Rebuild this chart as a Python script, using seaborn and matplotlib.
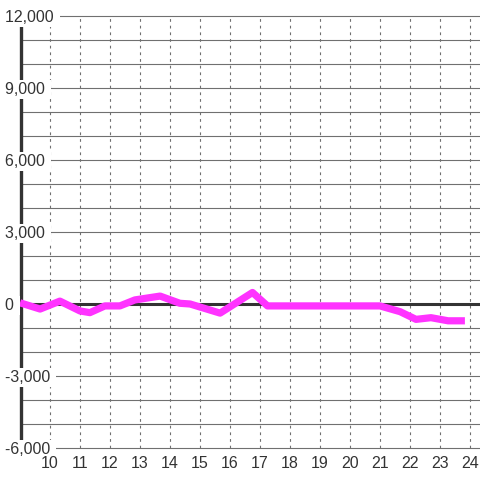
import numpy as np
import pandas as pd
import seaborn as sns
import matplotlib.pyplot as plt
import matplotlib.transforms as mtrans

# hour of day vs value
hours = [9.0, 9.67, 10.33, 11.0, 11.33, 11.83, 12.33, 12.83, 13.67, 14.33, 14.67,
         15.67, 16.75, 17.25, 21.0, 21.67, 22.2, 22.7, 23.27, 23.83]
values = [50, -210, 120, -290, -360, -80, -80, 170, 330, 30, 0,
          -380, 480, -80, -80, -320, -640, -570, -700, -700]
x_ticks = list(range(10, 25))
y_ticks = [-6000, -3000, 0, 3000, 6000, 9000, 12000]
y_grid = list(range(-6000, 12001, 1000))

sns.set_style('white')
plt.rcParams['font.family'] = ['Liberation Sans', 'DejaVu Sans']

fig = plt.figure(figsize=(4.8, 4.8), dpi=100)
W = H = 480.0
# x: 9h at px 20, 30 px per hour; y: 0 at px 304, 24 px per 1000
xlo, xhi = 8.9, 24.4
ylo, yhi = -6100, 12100
left = 20 + (xlo - 9) * 30
right = 20 + (xhi - 9) * 30
top = 304 - yhi / 1000 * 24
bottom = 304 - ylo / 1000 * 24
ax = fig.add_axes([left / W, 1 - bottom / H, (right - left) / W, (bottom - top) / H])
ax.set_xlim(xlo, xhi)
ax.set_ylim(ylo, yhi)

grid_col = '#707070'
for y in y_grid:
    ax.axhline(y, xmin=(9.03 - xlo) / (xhi - xlo), color=grid_col, lw=0.8, zorder=1)
for x in x_ticks:
    ax.plot([x, x], [-6000, 12000], color=grid_col, lw=0.8, ls=(0, (2.5, 3.5)), zorder=1)

ax.axhline(0, xmin=(9.03 - xlo) / (xhi - xlo), color='#333333', lw=2.2, zorder=2)
ax.plot([9.03, 9.03], [-6000, 12000], color='#333333', lw=2.4, zorder=2,
        solid_capstyle='butt')

sns.lineplot(x=hours, y=values, ax=ax, color='#ff33ff', linewidth=5.2, zorder=3)
ax.lines[-1].set_solid_joinstyle('round')
ax.lines[-1].set_solid_capstyle('butt')

for s in ax.spines.values():
    s.set_visible(False)
ax.set_xticks(x_ticks)
ax.set_xticklabels([str(h) for h in x_ticks])
ax.tick_params(axis='x', length=0, pad=4, labelsize=11.5, labelcolor='#333333')
ax.xaxis.set_zorder(11)
ax.set_yticks([])

tr = mtrans.blended_transform_factory(fig.transFigure, ax.transData)
for y in y_ticks:
    ax.text(5 / W, y, f'{y:,} ', transform=tr, ha='left', va='center_baseline',
            fontsize=11.5, color='#333333', zorder=10, clip_on=False,
            bbox=dict(boxstyle='square,pad=0.1', fc='white', ec='none'))

fig.savefig('out.png', dpi=100)
